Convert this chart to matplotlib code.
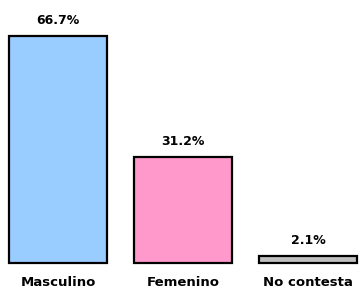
import matplotlib
matplotlib.use("Agg")
import matplotlib.pyplot as plt

categorias = ["Masculino", "Femenino", "No contesta"]
porcentajes = [66.7, 31.2, 2.1]
colores = ["#99CCFF", "#FF99CC", "#C0C0C0"]

fig = plt.figure(figsize=(3.59, 2.91), dpi=100)
ax = fig.add_axes([0, 0, 1, 1])

x = list(range(len(categorias)))
bars = ax.bar(x, porcentajes, width=0.78, color=colores, edgecolor="black", linewidth=1.6)

for xi, v in zip(x, porcentajes):
    ax.annotate(f"{v:.1f}%", (xi, v), xytext=(0, 6.5), textcoords="offset points",
                ha="center", va="bottom", fontsize=9, fontweight="bold", color="black")
    ax.annotate(categorias[xi], (xi, 0), xytext=(0, -9.5), textcoords="offset points",
                ha="center", va="top", fontsize=9.5, fontweight="bold", color="black")

ax.set_xlim(-58 / 125, (359 - 58) / 125)
ax.set_ylim(-28 / 3.4, (291 - 28) / 3.4)
ax.axis("off")

fig.savefig("out.png", dpi=100, facecolor="white")
